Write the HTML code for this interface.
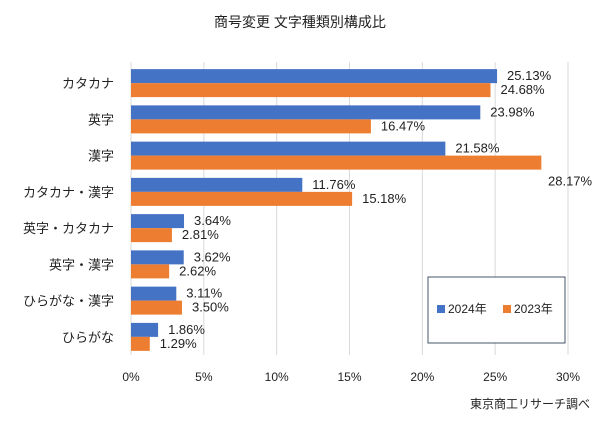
<!DOCTYPE html>
<html><head><meta charset="utf-8"><style>
body{margin:0;background:#fff;}
svg text{font-family:"Liberation Sans","Noto Sans CJK JP",sans-serif;fill:#222;}
</style></head><body>
<svg id="chart" width="600" height="424" xmlns="http://www.w3.org/2000/svg">
<text x="300" y="27" text-anchor="middle" font-size="14">商号変更 文字種類別構成比</text>
<g id="grid"></g><g id="bars"></g><g id="labels"></g>
<rect x="428" y="277" width="137" height="66" fill="#fff" stroke="#44546a" stroke-width="1"/>
<rect x="437" y="305" width="8" height="8" fill="#4472c4"/>
<text x="448" y="313" font-size="12">2024年</text>
<rect x="503" y="305" width="8" height="8" fill="#ed7d31"/>
<text x="514" y="313" font-size="12">2023年</text>
<text x="590" y="408" text-anchor="end" font-size="12">東京商工リサーチ調べ</text>
</svg>
<script>
const categories=["カタカナ","英字","漢字","カタカナ・漢字","英字・カタカナ","英字・漢字","ひらがな・漢字","ひらがな"];
const values2024=[25.13,23.98,21.58,11.76,3.64,3.62,3.11,1.86];
const values2023=[24.68,16.47,28.17,15.18,2.81,2.62,3.50,1.29];
const ticks=[0,5,10,15,20,25,30];
const NS="http://www.w3.org/2000/svg";
const x0=131,x1=568,plotTop=65,plotBottom=355;
const band=(plotBottom-plotTop)/categories.length;
function xs(v){return x0+(v-ticks[0])/(ticks[ticks.length-1]-ticks[0])*(x1-x0);}
function mk(t,a,p){const e=document.createElementNS(NS,t);for(const k in a)e.setAttribute(k,a[k]);p.appendChild(e);return e;}
const g=document.getElementById('grid'),b=document.getElementById('bars'),l=document.getElementById('labels');
ticks.forEach(t=>{
 const ln=mk('line',{x1:xs(t),x2:xs(t),y1:62,y2:plotBottom,stroke:'#d9d9d9','stroke-width':1},g);
 
 
 const tx=mk('text',{x:xs(t),y:381,'text-anchor':'middle','font-size':12},g);tx.textContent=t+'%';
 
 
});
categories.forEach((c,i)=>{
 const cy=plotTop+band*i+band/2;
 const ct=mk('text',{x:114,y:cy+5,'text-anchor':'end','font-size':13},l);ct.textContent=c;
 
 
 [[values2024[i],'#4472c4',cy-14],[values2023[i],'#ed7d31',cy]].forEach(([v,col,y],k)=>{
  const r=mk('rect',{x:x0,y:y,width:xs(v)-x0,height:14,fill:col},b);
  
  
  let lx=xs(v)+10,ly=y+11;
  if(lx+40>x1+10){lx=x1-20;ly=y+30;}
  const t=mk('text',{x:lx,y:ly,'font-size':13},l);t.textContent=v.toFixed(2)+'%';
  
  
 });
});
</script>
</body></html>
